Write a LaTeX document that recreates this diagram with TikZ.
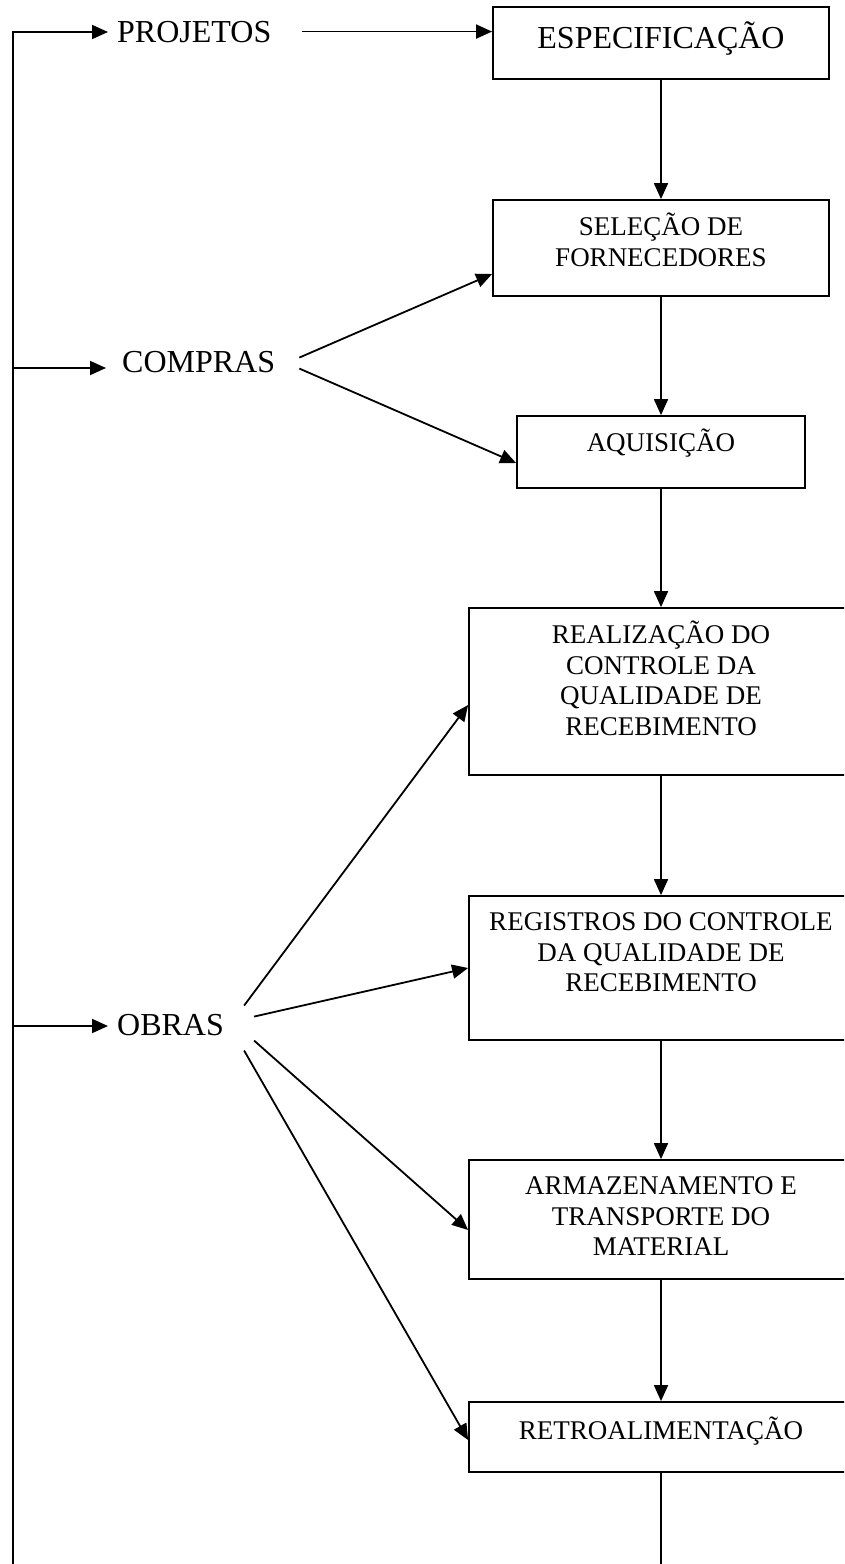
\documentclass[tikz,border=0pt]{standalone}
\usepackage{fontspec}
\setmainfont{Liberation Serif}
\usetikzlibrary{arrows.meta}
\usetikzlibrary{calc}
\usetikzlibrary{positioning}

\begin{document}
\begin{tikzpicture}[x=1pt,y=-1pt]
	\clip (0,0) rectangle (844,1564);

	% boxes of the chain
	\begin{scope}[every node/.style={draw, line width=1.8pt, inner sep=0pt, minimum width=384pt},
	              every label/.style={draw=none, anchor=north, yshift=-12pt, align=center,
	                                  minimum width=0pt, font=\fontsize{27}{30.5}\selectfont}]
		\node[minimum width=336pt, minimum height=72pt,
		      label={[yshift=-3pt, font=\fontsize{32}{37}\selectfont]north:ESPECIFICAÇÃO}] (esp) at (661,43) {};
		\node[minimum width=336pt, minimum height=96pt,
		      label={[yshift=-1pt]north:SELEÇÃO DE\\FORNECEDORES}] (sel) at (661,248) {};
		\node[minimum width=288pt, minimum height=72pt,
		      label={[yshift=-1pt]north:AQUISIÇÃO}] (aq) at (661,452) {};
		\node[minimum height=167pt,
		      label={[yshift=-1pt]north:REALIZAÇÃO DO\\CONTROLE DA\\QUALIDADE DE\\RECEBIMENTO}] (real) at (661,691.5) {};
		\node[minimum height=144pt,
		      label={[yshift=-5pt]north:REGISTROS DO CONTROLE\\DA QUALIDADE DE\\RECEBIMENTO}] (reg) at (661,968) {};
		\node[minimum height=119pt,
		      label={[yshift=-5pt]north:ARMAZENAMENTO E\\TRANSPORTE DO\\MATERIAL}] (arm) at (661,1219.5) {};
		\node[minimum height=70pt,
		      label={[yshift=-3pt]north:RETROALIMENTAÇÃO}] (retro) at (661,1437) {};
	\end{scope}

	% sectors on the left
	\begin{scope}[every node/.style={inner sep=0pt, anchor=base west, font=\fontsize{32}{37}\selectfont}]
		\node (proj) at (117,42) {PROJETOS};
		\node (comp) at (122,372) {COMPRAS};
		\node (obr) at (117,1035) {OBRAS};
	\end{scope}

	\coordinate (top) at (13,32);
	\coordinate (bot) at (13,1564);
	\coordinate (cbr) at (13,368);
	\coordinate (obrbr) at (13,1026);
	\coordinate (end) at (661,1564);

	\begin{scope}[>={Triangle[length=16pt, width=14pt]},
	              every edge/.style={draw, line width=1.8pt}]
		\draw[line width=1.8pt, ->, shorten >=9pt] (bot) -- (top) -- (top -| proj.west);
		\path (cbr) edge[->, shorten >=16pt] (cbr -| comp.west);
		\path (obrbr) edge[->, shorten >=9pt] (obrbr -| obr.west);
		\path ([xshift=30pt]proj.east) edge[->] (proj.east -| esp.west);

		% down the chain
		\path (esp) edge[->] (sel);
		\path (sel) edge[->] (aq);
		\path (aq) edge[->] (real);
		\path (real) edge[->] (reg);
		\path (reg) edge[->] (arm);
		\path (arm) edge[->] (retro);
		\path (retro) edge (end);

		% compras
		\path ([xshift=24pt, yshift=4pt]comp.east) edge[->] ([yshift=-26pt]sel.west);
		\path ([xshift=24pt, yshift=-7pt]comp.east) edge[->] ([yshift=-11pt]aq.west);

		% obras
		\path ([xshift=20pt, yshift=19pt]obr.east) edge[->] ([yshift=-13.5pt]real.west);
		\path ([xshift=30pt, yshift=8pt]obr.east) edge[->] (reg.west);
		\path ([xshift=30pt, yshift=-16pt]obr.east) edge[->] ([yshift=-10.5pt]arm.west);
		\path ([xshift=20pt, yshift=-26pt]obr.east) edge[->] ([yshift=-3pt]retro.west);
	\end{scope}
\end{tikzpicture}
\end{document}
